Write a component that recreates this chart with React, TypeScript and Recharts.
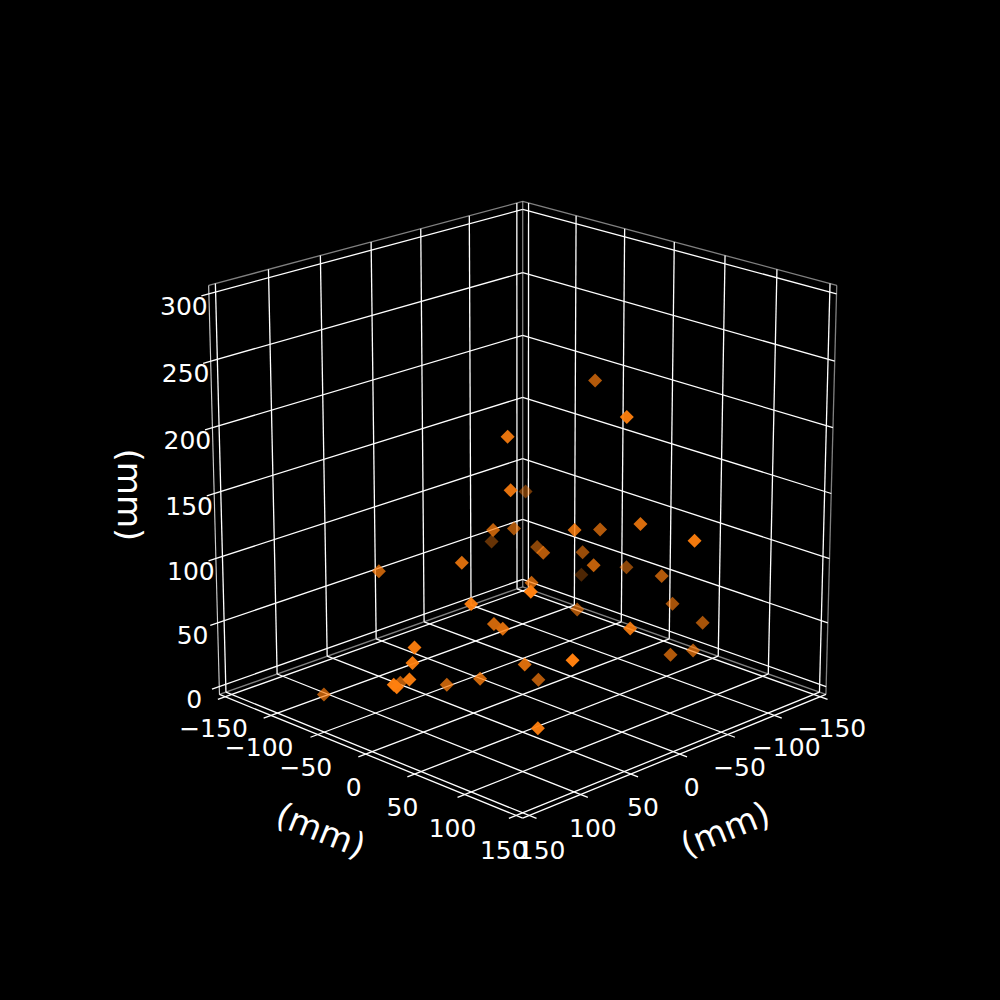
import * as React from "react";
import { ScatterChart, Scatter, XAxis, YAxis, ReferenceLine } from "recharts";

const xTicks = [-150, -100, -50, 0, 50, 100, 150];
const yTicks = [-150, -100, -50, 0, 50, 100, 150];
const zTicks = [0, 50, 100, 150, 200, 250, 300];

// point positions in mm, depth estimated from how faded each marker is
const pointX = [-73, -18, 32, 39, -82, 17, -19, -68, 1, -50, -33, -31, -53, -17, -63, -28, -135, -96, -74, 63, 82, 6, 71, 90, -38, -88, -100, 3, 45, 54, -65, -77, 62, 125, 129, 49, 133, 61, 7, 67, 78, 149, 149, 119, 78];
const pointY = [1, 85, 17, 27, -79, -13, -28, -101, 53, 29, 85, 139, -38, 4, -1, 44, -72, 12, 68, 2, -64, 15, 79, 39, 18, 66, 85, 110, 16, 34, 86, 97, 111, 18, 20, 51, 21, 18, 23, -10, -47, 22, 25, -84, 93];
const pointZ = [219, 224, 205, 169, 111, 123, 111, 69, 136, 117, 140, 142, 85, 101, 88, 99, 32, 71, 85, 114, 95, 87, 115, 100, 55, 59, 46, 77, 66, 70, 31, 34, 70, 71, 61, 46, 50, 29, 14, 18, 12, 51, 50, 4, 18];

const ZMIN = -6.25, ZMAX = 306.25, L = 156.25;
const BOX = 1.056, BOXZ = 1.05;
const DIST = 10;
const K = 4132, CX = 522.7, CY = 493.5;
const elev = (19.5 * Math.PI) / 180;
const ce = Math.cos(elev), se = Math.sin(elev), r = Math.SQRT1_2;

// same camera idea as mplot3d: azim 45, perspective, plot coords equal picture pixels
function project(x: number, y: number, z: number) {
  const dx = (x / (2 * L)) * BOX;
  const dy = (y / (2 * L)) * BOX;
  const dz = ((z - 150) / (ZMAX - ZMIN)) * BOXZ;
  const along = ce * r * dx + ce * r * dy + se * dz;
  const depth = DIST - along;
  const side = -r * dx + r * dy;
  const up = -se * r * dx - se * r * dy + ce * dz;
  return { h: CX + (K * side) / depth, v: CY - (K * up) / depth, depth };
}

const seg = (a: number[], b: number[]) => {
  const p = project(a[0], a[1], a[2]);
  const q = project(b[0], b[1], b[2]);
  return [{ x: p.h, y: p.v }, { x: q.h, y: q.v }] as any;
};

const WHITE = "#ffffff";
const line = (a: number[], b: number[], key: string, w = 1.3, op = 1) => (
  <ReferenceLine key={key} segment={seg(a, b)} stroke={WHITE} strokeWidth={w} strokeOpacity={op} ifOverflow="visible" />
);

const gridLines: React.ReactNode[] = [];
xTicks.forEach((t) => {
  gridLines.push(line([t, L + 7, ZMIN], [t, -L, ZMIN], `xa${t}`));
  gridLines.push(line([t, -L, ZMIN], [t, -L, ZMAX], `xb${t}`));
});
yTicks.forEach((t) => {
  gridLines.push(line([L + 7, t, ZMIN], [-L, t, ZMIN], `ya${t}`));
  gridLines.push(line([-L, t, ZMIN], [-L, t, ZMAX], `yb${t}`));
});
zTicks.forEach((t) => {
  gridLines.push(line([L + 7, -L, t], [-L, -L, t], `za${t}`));
  gridLines.push(line([-L, -L, t], [-L, L, t], `zb${t}`));
});

const paneLines = [
  line([L, -L, ZMAX], [-L, -L, ZMAX], "p1", 1.3, 0.5),
  line([-L, -L, ZMAX], [-L, L, ZMAX], "p2", 1.3, 0.5),
  line([-L, -L, ZMIN], [-L, -L, ZMAX], "p3", 1.3, 0.5),
  line([-L, L, ZMIN], [-L, L, ZMAX], "p4", 1.3, 0.5),
  line([L, -L, ZMIN], [-L, -L, ZMIN], "p5", 1.3, 0.5),
  line([-L, -L, ZMIN], [-L, L, ZMIN], "p6", 1.3, 0.5),
  line([L, -L, ZMIN], [L, -L, ZMAX], "a1", 1.15, 0.8),
  line([L, -L, ZMIN], [L, L, ZMIN], "a2"),
  line([-L, L, ZMIN], [L, L, ZMIN], "a3"),
];

const projected = pointX.map((x, i) => project(x, pointY[i], pointZ[i]));
const nearest = Math.min(...projected.map((p) => p.depth));
const farthest = Math.max(...projected.map((p) => p.depth));
// depth shading, far markers drawn first
const points = projected
  .map((p) => ({ h: p.h, v: p.v, depth: p.depth, a: 1 - ((p.depth - nearest) / (farthest - nearest)) * 0.7 }))
  .sort((a, b) => b.depth - a.depth);

const labels: any[] = [];
const fmt = (t: number) => `${t}`.replace("-", "\u2212");
xTicks.forEach((t) => {
  const p = project(t, L + 11, ZMIN - 23);
  labels.push({ h: p.h + 1, v: p.v - 1, text: fmt(t), size: 25, rot: 0 });
});
yTicks.forEach((t) => {
  const p = project(L + 11, t, ZMIN - 23);
  labels.push({ h: p.h - 1, v: p.v - 1, text: fmt(t), size: 25, rot: 0 });
});
zTicks.forEach((t) => {
  const p = project(L, -L, t);
  labels.push({ h: p.h - 25, v: p.v + 12.5, text: fmt(t), size: 25, rot: 0 });
});
labels.push({ h: 321, v: 830, text: "(mm)", size: 34, rot: 22 });
labels.push({ h: 725, v: 829, text: "(mm)", size: 34, rot: -22 });
labels.push({ h: 130, v: 495, text: "(mm)", size: 34, rot: 90 });

const Diamond = (p: any) => (
  <path
    d={`M${p.cx} ${p.cy - 7}L${p.cx + 7} ${p.cy}L${p.cx} ${p.cy + 7}L${p.cx - 7} ${p.cy}Z`}
    fill="#ff7f0e"
    fillOpacity={p.payload.a}
  />
);

const Label3d = (p: any) => (
  <text
    x={p.cx}
    y={p.cy}
    fill="#fff"
    fontSize={p.payload.size}
    fontFamily="DejaVu Sans"
    textAnchor="middle"
    dominantBaseline="central"
    transform={p.payload.rot ? `rotate(${p.payload.rot} ${p.cx} ${p.cy})` : undefined}
  >
    {p.payload.text}
  </text>
);

export default function App() {
  return (
    <div style={{ position: "absolute", left: 0, top: 0, width: 1000, height: 1000, background: "#000" }}>
      <ScatterChart width={1000} height={1000} margin={{ top: 0, right: 0, bottom: 0, left: 0 }}>
        <XAxis type="number" dataKey="h" domain={[0, 1000]} hide />
        <YAxis type="number" dataKey="v" domain={[0, 1000]} reversed hide />
        {gridLines}
        {paneLines}
        <Scatter data={labels} shape={Label3d} isAnimationActive={false} />
        <Scatter data={points} shape={Diamond} isAnimationActive={false} />
      </ScatterChart>
    </div>
  );
}
